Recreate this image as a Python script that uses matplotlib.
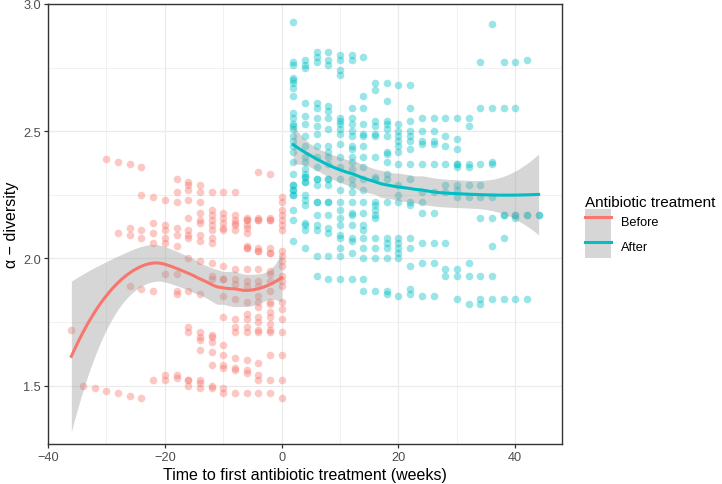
import numpy as np
import matplotlib
matplotlib.use("Agg")
import matplotlib.pyplot as plt
from matplotlib.patches import Patch
from matplotlib.lines import Line2D
from matplotlib.legend_handler import HandlerTuple

plt.rcParams['font.family'] = ['Liberation Sans', 'DejaVu Sans']

# weeks relative to first antibiotic treatment, and alpha-diversity per week
# (repeated values are overlapping samples that show up darker in the original)
before_weeks = [-36, -34, -32, -30, -28, -26, -24, -22, -20, -18, -16, -14, -12, -10, -8, -6, -4, -2, 0]
before_vals = [
    [1.72],
    [1.50],
    [1.49],
    [2.39, 1.48],
    [2.38, 2.10, 1.47],
    [2.37, 2.12, 2.09, 1.89, 1.46],
    [2.36, 2.25, 2.11, 2.08, 1.88, 1.45],
    [2.24, 2.14, 2.10, 2.06, 1.87, 1.52],
    [2.23, 2.13, 2.11, 2.08, 2.06, 1.94, 1.54, 1.52],
    [2.31, 2.26, 2.22, 2.12, 2.09, 2.05, 1.94, 1.87, 1.86, 1.54, 1.53],
    [2.30, 2.29, 2.27, 2.23, 2.16, 2.11, 2.09, 2.08, 2.00, 1.87, 1.73, 1.71, 1.52, 1.52, 1.50],
    [2.29, 2.26, 2.22, 2.18, 2.15, 2.14, 2.09, 2.07, 1.99, 1.86, 1.71, 1.69, 1.68, 1.64, 1.52, 1.51, 1.49],
    [2.26, 2.19, 2.17, 2.15, 2.13, 2.11, 2.08, 2.06, 1.98, 1.93, 1.92, 1.70, 1.69, 1.67, 1.63, 1.58, 1.50, 1.49],
    [2.26, 2.18, 2.16, 2.14, 2.12, 2.11, 1.97, 1.92, 1.92, 1.85, 1.77, 1.66, 1.62, 1.58, 1.57, 1.49, 1.47],
    [2.26, 2.17, 2.15, 2.14, 2.13, 2.11, 1.96, 1.92, 1.90, 1.84, 1.76, 1.73, 1.71, 1.61, 1.57, 1.56, 1.47],
    [2.16, 2.15, 2.15, 2.13, 2.12, 2.10, 2.05, 2.04, 2.04, 1.96, 1.91, 1.89, 1.83, 1.78, 1.76, 1.73, 1.71, 1.60, 1.56, 1.55, 1.47],
    [2.34, 2.16, 2.15, 2.15, 2.04, 2.03, 2.03, 1.96, 1.91, 1.89, 1.85, 1.83, 1.81, 1.77, 1.75, 1.72, 1.71, 1.59, 1.54, 1.52, 1.47],
    [2.33, 2.16, 2.15, 2.15, 2.04, 2.02, 2.02, 1.95, 1.94, 1.91, 1.87, 1.83, 1.82, 1.79, 1.77, 1.74, 1.72, 1.71, 1.62, 1.52, 1.47],
    [2.24, 2.22, 2.19, 2.17, 2.15, 2.13, 2.11, 2.03, 2.01, 1.99, 1.97, 1.93, 1.91, 1.89, 1.83, 1.80, 1.76, 1.71, 1.62, 1.52, 1.45],
]

after_weeks = [2, 4, 6, 8, 10, 12, 14, 16, 18, 20, 22, 24, 26, 28, 30, 32, 34, 36, 38, 40, 42, 44]
after_vals = [
    [2.93, 2.77, 2.76, 2.71, 2.70, 2.69, 2.67, 2.64, 2.57, 2.55, 2.53, 2.52, 2.51, 2.48, 2.46, 2.44, 2.42,
     2.38, 2.33, 2.29, 2.29, 2.27, 2.27, 2.25, 2.25, 2.19, 2.15, 2.07],
    [2.78, 2.76, 2.75, 2.61, 2.56, 2.53, 2.48, 2.44, 2.40, 2.38, 2.35, 2.33, 2.32, 2.32, 2.30, 2.30,
     2.25, 2.23, 2.21, 2.14, 2.13, 2.11, 2.04],
    [2.81, 2.79, 2.77, 2.61, 2.59, 2.55, 2.52, 2.49, 2.44, 2.40, 2.36, 2.31, 2.31, 2.29, 2.22, 2.22,
     2.17, 2.13, 2.11, 2.01, 1.93],
    [2.81, 2.78, 2.76, 2.60, 2.58, 2.55, 2.51, 2.44, 2.42, 2.40, 2.37, 2.31, 2.31, 2.29, 2.22, 2.22,
     2.17, 2.12, 2.10, 2.01, 1.92],
    [2.80, 2.78, 2.74, 2.72, 2.55, 2.54, 2.53, 2.51, 2.49, 2.45, 2.40, 2.36, 2.31, 2.27, 2.22, 2.19, 2.16, 2.13, 2.09, 2.08, 2.04, 2.01, 1.92],
    [2.80, 2.78, 2.59, 2.55, 2.53, 2.50, 2.48, 2.44, 2.43, 2.40, 2.38, 2.35, 2.31, 2.29, 2.26, 2.22, 2.18, 2.17, 2.13, 2.08, 2.07, 2.02, 1.92],
    [2.79, 2.64, 2.59, 2.53, 2.49, 2.48, 2.44, 2.40, 2.36, 2.31, 2.27, 2.22, 2.18, 2.13, 2.11, 2.08, 2.04, 2.00, 1.92, 1.87],
    [2.69, 2.66, 2.54, 2.52, 2.49, 2.48, 2.40, 2.32, 2.31, 2.22, 2.21, 2.19, 2.17, 2.16, 2.08, 2.04, 2.00, 1.87],
    [2.69, 2.62, 2.54, 2.53, 2.51, 2.48, 2.42, 2.41, 2.38, 2.33, 2.31, 2.22, 2.08, 2.06, 2.04, 2.00, 1.87, 1.86],
    [2.68, 2.53, 2.50, 2.48, 2.46, 2.44, 2.42, 2.37, 2.29, 2.25, 2.22, 2.08, 2.06, 2.04, 2.02, 2.00, 1.85],
    [2.68, 2.59, 2.54, 2.50, 2.48, 2.46, 2.43, 2.37, 2.31, 2.22, 2.21, 2.08, 2.04, 1.97, 1.88, 1.86],
    [2.55, 2.50, 2.46, 2.45, 2.37, 2.26, 2.22, 2.18, 2.06, 1.98, 1.85],
    [2.55, 2.50, 2.46, 2.45, 2.37, 2.26, 2.18, 2.06, 1.98, 1.85],
    [2.55, 2.48, 2.44, 2.37, 2.29, 2.26, 2.06, 1.96, 1.93],
    [2.55, 2.47, 2.43, 2.37, 2.37, 2.36, 2.29, 2.27, 2.24, 1.96, 1.93, 1.84],
    [2.55, 2.52, 2.37, 2.36, 2.29, 2.24, 1.98, 1.93, 1.82],
    [2.77, 2.59, 2.37, 2.29, 2.24, 2.16, 1.93, 1.84, 1.82],
    [2.92, 2.59, 2.38, 2.37, 2.24, 2.16, 2.05, 1.93, 1.84],
    [2.77, 2.59, 2.17, 2.17, 2.08, 1.84],
    [2.77, 2.59, 2.17, 2.17, 2.16, 1.84],
    [2.78, 2.17, 2.17, 1.84],
    [2.17, 2.17],
]

group_labels = ['Before', 'After']
group_colors = ['#F8766D', '#00BFC4']


def flatten(weeks, vals):
    x = np.concatenate([[w] * len(v) for w, v in zip(weeks, vals)]).astype(float)
    y = np.concatenate(vals).astype(float)
    return x, y


def loess_weights(x, x0, span):
    n = len(x)
    q = int(np.floor(n * span))
    d = np.abs(x - x0)
    h = np.sort(d)[q - 1]
    u = np.clip(d / h, 0, 1)
    return (1 - u ** 3) ** 3


def loess_row(x, x0, span=0.75):
    """Row of the local quadratic smoother matrix at x0."""
    w = loess_weights(x, x0, span)
    X = np.column_stack([np.ones_like(x), x - x0, (x - x0) ** 2])
    XtW = X.T * w
    A = np.linalg.pinv(XtW @ X) @ XtW
    return A[0]


def loess_fit(x, y, grid, span=0.75):
    L = np.array([loess_row(x, xi, span) for xi in x])
    resid = y - L @ y
    IL = np.eye(len(x)) - L
    delta1 = np.trace(IL.T @ IL)
    sigma = np.sqrt(np.sum(resid ** 2) / delta1)
    rows = np.array([loess_row(x, g, span) for g in grid])
    fit = rows @ y
    se = sigma * np.sqrt(np.sum(rows ** 2, axis=1))
    return fit, se


fig = plt.figure(figsize=(7.22, 4.85), dpi=100)
ax = fig.add_axes([48 / 722, 40 / 485, 514 / 722, 440 / 485])

handles = []
for weeks, vals, color, label in zip([before_weeks, after_weeks], [before_vals, after_vals],
                                     group_colors, group_labels):
    x, y = flatten(weeks, vals)
    ax.scatter(x, y, s=30, color=color, alpha=0.4, linewidths=0, zorder=2)
    grid = np.linspace(x.min(), x.max(), 80)
    fit, se = loess_fit(x, y, grid)
    tval = 1.97
    ax.fill_between(grid, fit - tval * se, fit + tval * se, color='#999999', alpha=0.4,
                    linewidth=0, zorder=3)
    ax.plot(grid, fit, color=color, linewidth=2.2, zorder=4)
    handles.append((Patch(facecolor='#D6D6D6', edgecolor='none'),
                    Line2D([], [], color=color, linewidth=2.2)))

ax.set_xlim(-40, 48)
ax.set_ylim(1.27, 3.0)
ax.set_xticks([-40, -20, 0, 20, 40])
ax.set_xticks([-30, -10, 10, 30], minor=True)
ax.set_yticks([1.5, 2.0, 2.5, 3.0])
ax.set_yticks([1.75, 2.25, 2.75], minor=True)
ax.grid(True, which='major', color='#EBEBEB', linewidth=0.9)
ax.grid(True, which='minor', color='#EBEBEB', linewidth=0.5)
ax.set_axisbelow(True)
for sp in ax.spines.values():
    sp.set_color('#333333')
    sp.set_linewidth(1.0)
ax.tick_params(which='major', length=3, width=0.9, color='#333333', labelcolor='#4D4D4D',
               labelsize=9.2, pad=2)
ax.tick_params(which='minor', length=0)
ax.set_xlabel('Time to first antibiotic treatment (weeks)', fontsize=11.5, labelpad=3)
ax.set_ylabel('α − diversity', fontsize=11.5, labelpad=3)

fig.legend(handles, group_labels, handler_map={tuple: HandlerTuple(ndivide=1)},
           title='Antibiotic treatment', title_fontsize=11, fontsize=9.2,
           loc='upper left', bbox_to_anchor=(575 / 722, 1 - 186 / 485),
           frameon=False, handlelength=2.0, handleheight=2.55, labelspacing=0,
           handletextpad=0.8, borderpad=0.3, alignment='left')

fig.savefig('out.png', dpi=100)
